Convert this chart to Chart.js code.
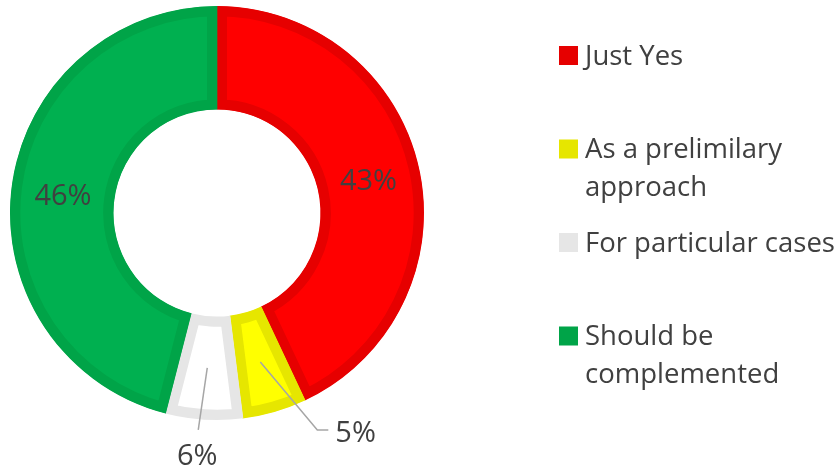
<!DOCTYPE html>
<html>
<head>
<meta charset="utf-8">
<script src="https://cdn.jsdelivr.net/npm/chart.js@4.4.1/dist/chart.umd.min.js"></script>
<style>
  html, body { margin: 0; padding: 0; background: #fff; }
  #wrap { width: 838px; height: 468px; }
</style>
</head>
<body>
<div id="wrap"><canvas id="myChart" width="838" height="468"></canvas></div>
<script>
// survey answers, clockwise from 12 o'clock
const categories = [['Just Yes'], ['As a prelimilary', 'approach'], ['For particular cases'], ['Should be', 'complemented']];
const shares = [43, 5, 6, 46];
const fillColors = ['#FF0000', '#FFFF00', '#FFFFFF', '#00B050'];
const edgeColors = ['#E60000', '#E6E600', '#E6E6E6', '#00A448'];

const textColor = '#404040';
const fontFamily = '"Open Sans", Lato, sans-serif';

// small slices get their number outside, with a leader line
const callouts = {
    1: { dx: 57, dy: 68, tail: 11, align: 'left' },
    2: { dx: -9, dy: 62, tail: 0, align: 'center' }
};

const sliceLabels = {
    id: 'sliceLabels',
    afterDatasetsDraw(chart) {
        const c = chart.ctx;
        const meta = chart.getDatasetMeta(0);
        meta.data.forEach((arc, i) => {
            const p = arc.getProps(['x', 'y', 'startAngle', 'endAngle', 'innerRadius', 'outerRadius'], true);
            const mid = (p.startAngle + p.endAngle) / 2;
            const r = (p.innerRadius + p.outerRadius) / 2;
            const mx = p.x + Math.cos(mid) * r;
            const my = p.y + Math.sin(mid) * r;
            const text = shares[i] + '%';
            c.save();
            c.fillStyle = textColor;
            c.font = '29px ' + fontFamily;
            c.textBaseline = 'middle';
            const co = callouts[i];
            if (!co) {
                c.textAlign = 'center';
                c.fillText(text, mx, my + 3);
            } else {
                const ex = mx + co.dx, ey = my + co.dy;
                c.strokeStyle = '#A6A6A6';
                c.lineWidth = 1.5;
                c.beginPath();
                c.moveTo(mx, my);
                c.lineTo(ex, ey);
                if (co.tail) c.lineTo(ex + co.tail, ey);
                c.stroke();
                if (co.align === 'left') {
                    c.textAlign = 'left';
                    c.fillText(text, ex + co.tail + 7, ey + 4);
                } else {
                    c.textAlign = 'center';
                    c.fillText(text, ex - 1, ey + 27);
                }
            }
            c.restore();
        });
    }
};

// legend on the right, with wrapped names
const sideLegend = {
    id: 'sideLegend',
    afterDraw(chart) {
        const c = chart.ctx;
        const left = 559, box = 18, textX = 585;
        const firstY = 55, step = 93.5, lineH = 38;
        c.save();
        c.font = '27.5px ' + fontFamily;
        c.textBaseline = 'middle';
        c.textAlign = 'left';
        chart.data.labels.forEach((lines, i) => {
            const y = firstY + step * i;
            c.fillStyle = edgeColors[i];
            c.fillRect(left, y - box / 2, box + 1, box + 1);
            c.fillStyle = textColor;
            lines.forEach((ln, k) => c.fillText(ln, textX, y + 2 + k * lineH));
        });
        c.restore();
    }
};

new Chart(document.getElementById('myChart'), {
    type: 'doughnut',
    data: {
        labels: categories,
        datasets: [{
            data: shares,
            backgroundColor: fillColors,
            borderColor: edgeColors,
            borderWidth: 10,
            borderAlign: 'inner',
            hoverOffset: 0
        }]
    },
    options: {
        responsive: false,
        animation: false,
        cutout: '50%',
        layout: { padding: { left: 10, top: 6, right: 414, bottom: 48 } },
        plugins: {
            legend: { display: false },
            tooltip: { enabled: false }
        }
    },
    plugins: [sliceLabels, sideLegend]
});
</script>
</body>
</html>
